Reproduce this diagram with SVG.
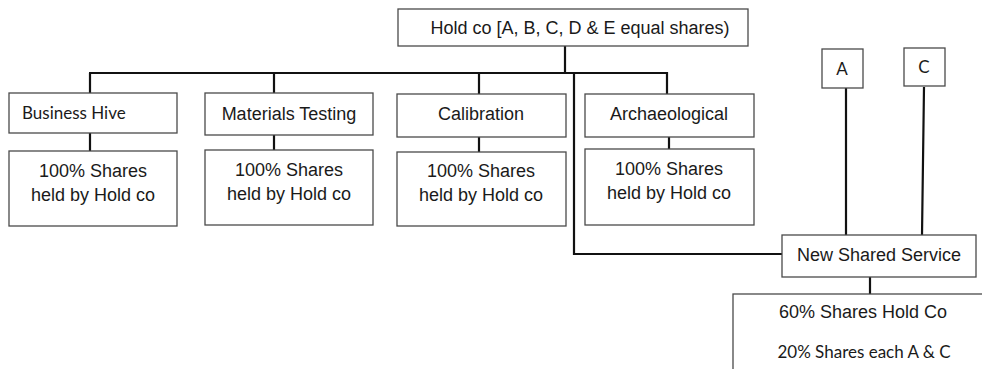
<svg xmlns="http://www.w3.org/2000/svg" width="982" height="369" viewBox="0 0 982 369">
<style>
.box{fill:#fff;stroke:#4a4a4a;stroke-width:1.3}
.a{font-family:"Liberation Sans",Arial,sans-serif;font-size:18px;fill:#1a1a1a;text-anchor:middle}
.c{font-family:Lato,"Open Sans",sans-serif;font-size:17px;fill:#1a1a1a}
.conn{fill:none;stroke:#111;stroke-width:2.2}
</style>
<rect width="982" height="369" fill="#fff"/>
<g id="connectors" class="conn">
<path d="M565,46V73M89,73H667V94"/>
<path d="M90,73V93M274,73V93M479,73V94"/>
<path d="M574,73V254H782"/>
<path d="M90,133V151M274,135V150M479,137V152M669,137V149"/>
<path d="M846,88V235M924,87L922,235"/>
<path d="M870,277V294"/>
</g>
<g id="holdco"><rect class="box" x="398" y="9" width="350" height="37"/><text class="a" x="580" y="34">Hold co [A, B, C,  D &amp; E equal shares)</text></g>
<g id="business-hive"><rect class="box" x="9" y="93" width="168" height="40"/><text class="c" x="22" y="119" font-size="18">Business Hive</text></g>
<g id="bh-shares"><rect class="box" x="9" y="151" width="168" height="75"/><text class="a" x="93" y="177">100% Shares</text><text class="a" x="93" y="201">held by Hold co</text></g>
<g id="materials-testing"><rect class="box" x="205" y="93" width="168" height="42"/><text class="a" x="289" y="120">Materials Testing</text></g>
<g id="mt-shares"><rect class="box" x="205" y="150" width="168" height="75"/><text class="a" x="289" y="176">100% Shares</text><text class="a" x="289" y="200">held by Hold co</text></g>
<g id="calibration"><rect class="box" x="397" y="94" width="169" height="43"/><text class="a" x="481" y="120">Calibration</text></g>
<g id="cal-shares"><rect class="box" x="397" y="152" width="169" height="74"/><text class="a" x="481" y="177">100% Shares</text><text class="a" x="481" y="201">held by Hold co</text></g>
<g id="archaeological"><rect class="box" x="585" y="94" width="169" height="43"/><text class="a" x="669" y="120">Archaeological</text></g>
<g id="arch-shares"><rect class="box" x="585" y="149" width="169" height="76"/><text class="a" x="669" y="175">100% Shares</text><text class="a" x="669" y="199">held by Hold co</text></g>
<g id="a"><rect class="box" x="822" y="49" width="41" height="39"/><text class="c" x="842" y="75" text-anchor="middle" font-size="16">A</text></g>
<g id="c"><rect class="box" x="904" y="48" width="41" height="38"/><text class="c" x="924" y="73" text-anchor="middle" font-size="16">C</text></g>
<g id="new-shared-service"><rect class="box" x="782" y="235" width="194" height="42"/><text class="a" x="879" y="261" font-size="17">New Shared Service</text></g>
<g id="nss-shares"><rect class="box" x="733" y="294" width="260" height="90"/><text class="a" x="863" y="318">60% Shares Hold Co</text><text class="c" x="864" y="358" text-anchor="middle" font-size="17">20% Shares each A &amp; C</text></g>
</svg>
